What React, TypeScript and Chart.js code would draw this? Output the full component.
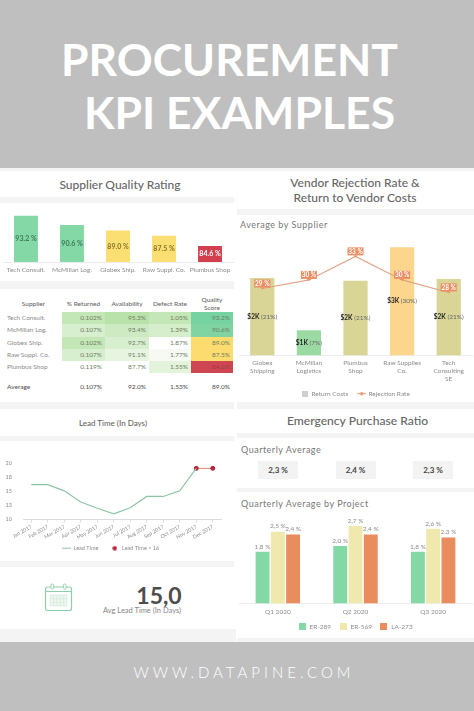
import React, { useEffect, useRef } from "react";
import { Chart, registerables } from "chart.js";

Chart.register(...registerables);
Chart.defaults.font.family = "Lato";

// ---------- data ----------
const qualitySuppliers = ["Tech Consult.", "McMillan Log.", "Globex Ship.", "Raw Suppl. Co.", "Plumbus Shop"];
const qualityScores = [93.2, 90.6, 89.0, 87.5, 84.6];
const qualityColors = ["#84d8a6", "#84d8a6", "#fbdf72", "#fbdf72", "#d2404f"];
const qualityTextColors = ["#3c7a58", "#3c7a58", "#85752c", "#85752c", "#ffffff"];

const tableHeaders = ["Supplier", "% Returned", "Availability", "Defect Rate", "Quality\nScore"];
const tableReturned = ["0.102%", "0.107%", "0.102%", "0.107%", "0.119%"];
const tableAvailability = ["95.3%", "93.4%", "92.7%", "91.1%", "87.7%"];
const tableDefects = ["1.05%", "1.39%", "1.87%", "1.77%", "1.55%"];
const tableScores = ["93.2%", "90.6%", "89.0%", "87.5%", "84.6%"];
const tableAverage = ["Average", "0.107%", "92.0%", "1.53%", "89.0%"];
const returnedShades = ["#c4e7b7", "#d8efcf", "#c4e7b7", "#d8efcf", "#ffffff"];
const availabilityShades = ["#b9e2aa", "#cdeac2", "#d8efcf", "#e6f4e0", "#ffffff"];
const defectShades = ["#c4e7b7", "#d6eecc", "#ffffff", "#f6faf3", "#e3f3dc"];
const scoreShades = ["#76d2a0", "#80d4a2", "#fcdc6e", "#fcdc6e", "#cf4653"];

const vendorNames = [["Globex", "Shipping"], ["McMillan", "Logistics"], ["Plumbus", "Shop"], ["Raw Supplies", "Co."], ["Tech", "Consulting", "SE"]];
const returnCosts = [2.15, 0.7, 2.07, 3.0, 2.12];
const costLabels = ["$2K", "$1K", "$2K", "$3K", "$2K"];
const costShares = ["(21%)", "(7%)", "(21%)", "(30%)", "(21%)"];
const costColors = ["#d8d596", "#9cdaa4", "#d8d596", "#fbd68c", "#d8d596"];
const rejectionRate = [28.9, 30, 33, 30, 28.4];

const months = ["Jan 2017", "Feb 2017", "Mar 2017", "Apr 2017", "May 2017", "Jun 2017", "Jul 2017", "Aug 2017", "Sep 2017", "Oct 2017", "Nov 2017", "Dec 2017"];
const leadTime = [16.2, 16.2, 15.1, 13.1, 12, 11, 12.1, 14.1, 14.1, 15.1, 19.1, null];
const leadTimeHigh = [null, null, null, null, null, null, null, null, null, null, 19.1, 19.1];

const quarters = ["Q1 2020", "Q2 2020", "Q3 2020"];
const er289 = [1.8, 2.0, 1.8];
const er569 = [2.5, 2.7, 2.6];
const la273 = [2.4, 2.4, 2.3];
const quarterlyAverages = ["2,3 %", "2,4 %", "2,3 %"];

// ---------- helpers ----------
const GREY = "#8c8c8c";
const swatch = (draw: (c: CanvasRenderingContext2D) => void, w: number, h: number) => {
  const cv = document.createElement("canvas");
  cv.width = w;
  cv.height = h;
  draw(cv.getContext("2d")!);
  return cv;
};
const square = (color: string, size: number) =>
  swatch((c) => { c.fillStyle = color; c.fillRect(0, 0, size, size); }, size, size);
const lineDot = (color: string) =>
  swatch((c) => {
    c.strokeStyle = color; c.beginPath(); c.moveTo(0, 2.5); c.lineTo(9, 2.5); c.stroke();
    c.fillStyle = color; c.beginPath(); c.arc(4.5, 2.5, 1.8, 0, 7); c.fill();
  }, 9, 5);
const shortLine = (color: string) =>
  swatch((c) => { c.strokeStyle = color; c.beginPath(); c.moveTo(0, 2.5); c.lineTo(9, 2.5); c.stroke(); }, 9, 5);
const dot = (color: string) =>
  swatch((c) => { c.fillStyle = color; c.beginPath(); c.arc(2.5, 2.5, 2.2, 0, 7); c.fill(); }, 5, 5);

const legendFrom = (items: { text: string; img: HTMLCanvasElement }[], width: number, padding: number, fontSize: number) => ({
  position: "bottom" as const,
  labels: {
    usePointStyle: true,
    pointStyleWidth: width,
    boxHeight: 9,
    padding,
    color: GREY,
    font: { size: fontSize },
    generateLabels: () =>
      items.map((it, i) => ({ text: it.text, pointStyle: it.img, fontColor: GREY, datasetIndex: i, hidden: false, lineWidth: 0, strokeStyle: "transparent", fillStyle: "transparent" })),
  },
});
const fixedHeight = (h: number) => (scale: any) => {
  scale.height = h;
  scale._computeLabelArea = () => undefined; // tick labels may run past the fixed axis box
};
const fixedWidth = (w: number) => (scale: any) => { scale.width = w; };

const Text = ({ x, y, w, children, style }: any) => (
  <div style={{ position: "absolute", left: x, top: y, width: w, textAlign: "center", whiteSpace: "pre", lineHeight: 1, fontFamily: "Lato", ...style }}>{children}</div>
);
const Band = ({ x, y, w, h }: any) => <div style={{ position: "absolute", left: x, top: y, width: w, height: h, background: "#f4f4f4" }} />;
const Canvas = React.forwardRef<HTMLCanvasElement, any>(({ x, y, w, h }, ref) => (
  <canvas ref={ref} width={w} height={h} style={{ position: "absolute", left: x, top: y, width: w, height: h }} />
));

const tableRows = qualitySuppliers.map((s, i) => ({
  cells: [s, tableReturned[i], tableAvailability[i], tableDefects[i], tableScores[i]],
  fills: ["#ffffff", returnedShades[i], availabilityShades[i], defectShades[i], scoreShades[i]],
}));
const colX = [5, 62, 105, 149, 191];
const colW = [57, 43, 44, 42, 42];

export default function App() {
  const c1 = useRef<HTMLCanvasElement>(null);
  const c2 = useRef<HTMLCanvasElement>(null);
  const c3 = useRef<HTMLCanvasElement>(null);
  const c4 = useRef<HTMLCanvasElement>(null);

  useEffect(() => {
    const quality = new Chart(c1.current!, {
      type: "bar",
      data: { labels: qualitySuppliers, datasets: [{ data: qualityScores, backgroundColor: qualityColors, barPercentage: 0.52, categoryPercentage: 1 }] },
      options: {
        animation: false, responsive: false,
        layout: { padding: { left: 3, right: 4, top: 0, bottom: 0 } },
        plugins: { legend: { display: false }, tooltip: { enabled: false } },
        scales: {
          x: { afterFit: fixedHeight(16), grid: { display: false, drawTicks: false }, border: { color: "#ececec" }, ticks: { color: GREY, font: { size: 6.5 }, maxRotation: 0, autoSkip: false, padding: 4 } },
          y: { display: false, min: 80, max: 96 },
        },
      },
      plugins: [{
        id: "qualityLabels",
        afterDatasetsDraw(chart: any) {
          const { ctx, chartArea } = chart;
          const meta = chart.getDatasetMeta(0);
          ctx.save();
          ctx.font = "bold 7px Lato"; ctx.textAlign = "center"; ctx.textBaseline = "middle";
          meta.data.forEach((b: any, i: number) => {
            ctx.fillStyle = qualityTextColors[i];
            ctx.fillText(qualityScores[i].toFixed(1) + " %", b.x, (b.y + chartArea.bottom) / 2);
          });
          ctx.restore();
        },
      }],
    });

    const vendor = new Chart(c2.current!, {
      type: "bar",
      data: {
        labels: vendorNames as any,
        datasets: [
          { type: "line", data: rejectionRate, yAxisID: "y1", borderColor: "#e0a585", borderWidth: 1.1, pointRadius: 0, tension: 0, order: 0 } as any,
          { type: "bar", data: returnCosts, yAxisID: "y", backgroundColor: costColors, barPercentage: 0.52, categoryPercentage: 1, order: 1 },
        ],
      },
      options: {
        animation: false, responsive: false,
        layout: { padding: { left: 2, right: 2, top: 20, bottom: 0 } },
        plugins: {
          tooltip: { enabled: false },
          legend: legendFrom([{ text: "Return Costs", img: square("#cfcfcf", 6) }, { text: "Rejection Rate", img: lineDot("#e89a74") }], 7, 10, 6.5),
        },
        scales: {
          x: { afterFit: fixedHeight(25), grid: { display: false, drawTicks: false }, border: { color: "#ececec" }, ticks: { color: GREY, font: { size: 6.5, lineHeight: 1.18 }, maxRotation: 0, autoSkip: false, padding: 4 } },
          y: { display: false, min: 0, max: 3.34 },
          y1: { display: false, min: 20.35, max: 35.73 },
        },
      },
      plugins: [{
        id: "vendorLabels",
        afterDatasetsDraw(chart: any) {
          const { ctx } = chart;
          ctx.save();
          ctx.textBaseline = "middle";
          chart.getDatasetMeta(1).data.forEach((b: any, i: number) => {
            const y = (b.y + b.base) / 2;
            ctx.font = "bold 6.5px Lato";
            const a = costLabels[i];
            const s = " " + costShares[i];
            const wa = ctx.measureText(a).width;
            ctx.font = "6.5px Lato";
            const ws = ctx.measureText(s).width;
            const x0 = b.x - (wa + ws) / 2;
            ctx.textAlign = "left";
            ctx.font = "bold 6.5px Lato"; ctx.fillStyle = "#222";
            ctx.fillText(a, x0, y);
            ctx.font = "6.5px Lato"; ctx.fillStyle = "#666";
            ctx.fillText(s, x0 + wa, y);
          });
          chart.getDatasetMeta(0).data.forEach((p: any, i: number) => {
            const yc = p.y - 5;
            ctx.fillStyle = "#ec8d63";
            ctx.fillRect(p.x - 8, yc - 4, 16, 8);
            ctx.beginPath(); ctx.moveTo(p.x - 2, yc + 4); ctx.lineTo(p.x + 2, yc + 4); ctx.lineTo(p.x, yc + 6); ctx.fill();
            ctx.fillStyle = "#fff"; ctx.textAlign = "center"; ctx.font = "bold 6.5px Lato";
            ctx.fillText(Math.round(rejectionRate[i]) + " %", p.x, yc + 0.5);
          });
          ctx.restore();
        },
      }],
    });

    const lead = new Chart(c3.current!, {
      type: "line",
      data: {
        labels: months,
        datasets: [
          { data: leadTime, borderColor: "#8ec4a2", borderWidth: 1.2, pointRadius: 0, tension: 0 },
          { data: leadTimeHigh, borderColor: "#e0876e", borderWidth: 1, pointRadius: 2, pointBackgroundColor: "#b3263a", pointBorderColor: "#b3263a", tension: 0 },
        ],
      },
      options: {
        animation: false, responsive: false,
        layout: { padding: { left: 0, right: 16, top: 3.7, bottom: 0 } },
        plugins: {
          tooltip: { enabled: false },
          legend: legendFrom([{ text: "Lead Time", img: shortLine("#8ec4a2") }, { text: "Lead Time > 16", img: dot("#b3263a") }], 9, 12, 5.5),
        },
        scales: {
          x: {
            offset: true, afterFit: fixedHeight(14),
            grid: { drawOnChartArea: false, drawTicks: true, tickLength: 3, color: "#dcdcdc" },
            border: { color: "#dcdcdc" },
            ticks: { color: GREY, font: { size: 5.2 }, minRotation: 30, maxRotation: 30, autoSkip: false, padding: 1 },
          },
          y: {
            min: 10, max: 20, afterFit: fixedWidth(23),
            grid: { display: false, drawTicks: false }, border: { display: false },
            ticks: { stepSize: 2.5, color: GREY, font: { size: 5.5 }, callback: (v: any) => String(Math.round(v)), padding: 11 },
          },
        },
      },
    });

    const pct = (v: number) => v.toFixed(1).replace(".", ",") + " %";
    const emergency = new Chart(c4.current!, {
      type: "bar",
      data: {
        labels: quarters,
        datasets: [
          { label: "ER-289", data: er289, backgroundColor: "#84d8a6" },
          { label: "ER-569", data: er569, backgroundColor: "#efe9ae" },
          { label: "LA-273", data: la273, backgroundColor: "#e98c5e" },
        ].map((d) => ({ ...d, barPercentage: 0.91, categoryPercentage: 0.59 })),
      },
      options: {
        animation: false, responsive: false,
        layout: { padding: { left: 2, right: 2, top: 3.5, bottom: 0 } },
        plugins: {
          tooltip: { enabled: false },
          legend: legendFrom([{ text: "ER-289", img: square("#84d8a6", 7) }, { text: "ER-569", img: square("#efe9ae", 7) }, { text: "LA-273", img: square("#e98c5e", 7) }], 8, 8, 6.5),
        },
        scales: {
          x: { afterFit: fixedHeight(12), grid: { display: false, drawTicks: false }, border: { color: "#ececec" }, ticks: { color: GREY, font: { size: 6.5 }, maxRotation: 0, padding: 5 } },
          y: { display: false, min: 0, max: 3.2 },
        },
      },
      plugins: [{
        id: "emergencyLabels",
        afterDatasetsDraw(chart: any) {
          const { ctx } = chart;
          ctx.save();
          ctx.font = "6.5px Lato"; ctx.textAlign = "center"; ctx.textBaseline = "bottom"; ctx.fillStyle = GREY;
          chart.data.datasets.forEach((ds: any, d: number) => {
            chart.getDatasetMeta(d).data.forEach((b: any, i: number) => ctx.fillText(pct(ds.data[i]), b.x, b.y - 2));
          });
          ctx.restore();
        },
      }],
    });

    return () => { quality.destroy(); vendor.destroy(); lead.destroy(); emergency.destroy(); };
  }, []);

  return (
    <div style={{ position: "absolute", left: 0, top: 0, width: 474, height: 711, overflow: "hidden", background: "#fff", fontFamily: "Lato", filter: "blur(0.3px)" }}>
      <div style={{ position: "absolute", left: 0, top: 0, width: 474, height: 168, background: "#bfbfbf" }} />
      <div style={{ position: "absolute", left: 0, top: 642, width: 474, height: 69, background: "#bfbfbf" }} />
      <Text x={0} y={37} w={459} style={{ color: "#fff", fontSize: 44.5, fontWeight: 700 }}>PROCUREMENT</Text>
      <Text x={0} y={90} w={479} style={{ color: "#fff", fontSize: 44.5, fontWeight: 700 }}>KPI EXAMPLES</Text>
      <Text x={0} y={665} w={488} style={{ color: "#fff", fontSize: 15, fontWeight: 300, letterSpacing: 4 }}>WWW.DATAPINE.COM</Text>

      {/* bands */}
      <Band x={0} y={168} w={474} h={3} />
      <Band x={0} y={197} w={234} h={6} />
      <Band x={0} y={281} w={234} h={8} />
      <Band x={0} y={402} w={234} h={7} />
      <Band x={0} y={436} w={234} h={5} />
      <Band x={0} y={561} w={234} h={6} />
      <Band x={0} y={629} w={236} h={13} />
      <Band x={237} y={209} w={237} h={6} />
      <Band x={237} y={402} w={237} h={7} />
      <Band x={237} y={433} w={237} h={5} />
      <Band x={237} y={488} w={237} h={4} />
      <Band x={237} y={638} w={237} h={4} />

      {/* titles */}
      <Text x={0} y={179} w={240} style={{ fontSize: 12, fontWeight: 500, color: "#666" }}>Supplier Quality Rating</Text>
      <Text x={237} y={177} w={236} style={{ fontSize: 12, fontWeight: 500, color: "#666" }}>Vendor Rejection Rate &amp;</Text>
      <Text x={237} y={192} w={236} style={{ fontSize: 12, fontWeight: 500, color: "#666" }}>Return to Vendor Costs</Text>
      <Text x={240} y={220} w={90} style={{ fontSize: 9, color: "#777", textAlign: "left", letterSpacing: 0.5 }}>Average by Supplier</Text>
      <Text x={0} y={419} w={226} style={{ fontSize: 8, fontWeight: 500, color: "#666" }}>Lead Time (In Days)</Text>
      <Text x={237} y={415} w={241} style={{ fontSize: 12.1, fontWeight: 500, color: "#666" }}>Emergency Purchase Ratio</Text>
      <Text x={241} y={445} w={90} style={{ fontSize: 9, color: "#777", textAlign: "left", letterSpacing: 0.5 }}>Quarterly Average</Text>
      <Text x={241} y={499} w={130} style={{ fontSize: 9, color: "#777", textAlign: "left", letterSpacing: 0.5 }}>Quarterly Average by Project</Text>

      {/* table */}
      {tableHeaders.map((h, i) => (
        <Text key={h} x={colX[i]} y={i === 4 ? 296 : 301} w={colW[i]} style={{ fontSize: 6.5, color: "#666", lineHeight: i === 4 ? 1.25 : 1, fontWeight: 500 }}>{h}</Text>
      ))}
      {tableRows.map((r, ri) => r.cells.map((cell, ci) => (
        <div key={ri + "-" + ci} style={{
          position: "absolute", left: colX[ci], top: 312 + ri * 12.3, width: colW[ci], height: 12.3,
          background: r.fills[ci], fontSize: 6.5, lineHeight: "12.3px", color: ci === 0 ? "#8a8a8a" : ri === 4 && ci === 4 ? "#a03a48" : "#6f7c62",
          textAlign: ci === 0 ? "left" : "right", boxSizing: "border-box", padding: ci === 0 ? "0 0 0 2px" : "0 3px 0 0",
        }}>{cell}</div>
      )))}
      {tableAverage.map((cell, ci) => (
        <div key={"avg" + ci} style={{
          position: "absolute", left: colX[ci], top: 381, width: colW[ci], height: 12, fontSize: 6.5, lineHeight: "12px", fontWeight: 500, color: "#555",
          textAlign: ci === 0 ? "left" : "right", boxSizing: "border-box", padding: ci === 0 ? "0 0 0 2px" : "0 3px 0 0",
        }}>{cell}</div>
      ))}

      {/* KPI */}
      <svg style={{ position: "absolute", left: 44, top: 583 }} width={29} height={29} viewBox="0 0 29 29" fill="none" stroke="#8fceaa">
        <rect x="1.5" y="4" width="26" height="23.5" rx="2" strokeWidth="1.2" />
        <line x1="1.5" y1="8.5" x2="27.5" y2="8.5" strokeWidth="1" />
        <rect x="7" y="1" width="2.6" height="5" rx="1.2" fill="#fff" strokeWidth="0.9" />
        <rect x="19.4" y="1" width="2.6" height="5" rx="1.2" fill="#fff" strokeWidth="0.9" />
        <path d="M6 12h17v11H6zM6 15.7h17M6 19.3h17M9.4 12v11M12.8 12v11M16.2 12v11M19.6 12v11" fill="#eef7f1" stroke="#cfe8d8" strokeWidth="0.6" />
      </svg>
      <Text x={119} y={584} w={80} style={{ fontSize: 23, fontWeight: 700, color: "#4d4d4d" }}>15,0</Text>
      <Text x={92} y={607} w={100} style={{ fontSize: 7.5, color: "#888" }}>Avg Lead Time (In Days)</Text>

      {quarterlyAverages.map((v, i) => (
        <div key={i} style={{
          position: "absolute", left: 258 + i * 77.5, top: 461, width: 40, height: 18, background: "#f3f3f3",
          textAlign: "center", lineHeight: "18px", fontSize: 8, fontWeight: 700, color: "#444",
        }}>{v}</div>
      ))}

      <Canvas ref={c1} x={0} y={206} w={237} h={72} />
      <Canvas ref={c2} x={237} y={215} w={237} h={192} />
      <Canvas ref={c3} x={0} y={449} w={237} h={112} />
      <Canvas ref={c4} x={237} y={508} w={237} h={132} />
    </div>
  );
}
